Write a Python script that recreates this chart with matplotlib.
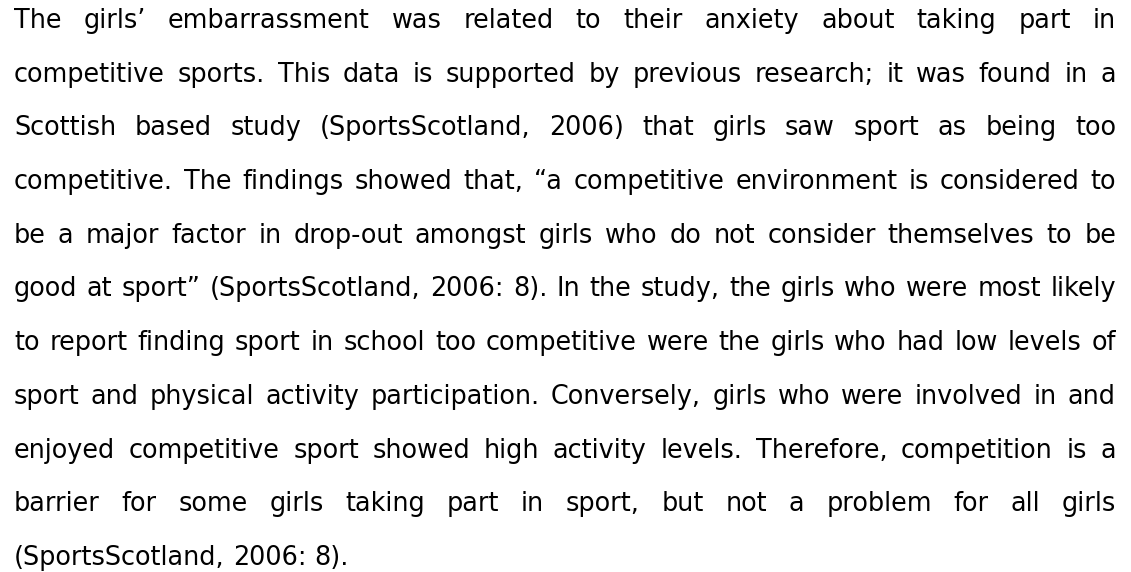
import matplotlib
matplotlib.use("Agg")
import matplotlib.pyplot as plt

# paragraph text, one entry per printed line (last line is left aligned)
lines = [
    "The girls\u2019 embarrassment was related to their anxiety about taking part in",
    "competitive sports. This data is supported by previous research; it was found in a",
    "Scottish based study (SportsScotland, 2006) that girls saw sport as being too",
    "competitive. The findings showed that, \u201ca competitive environment is considered to",
    "be a major factor in drop-out amongst girls who do not consider themselves to be",
    "good at sport\u201d (SportsScotland, 2006: 8). In the study, the girls who were most likely",
    "to report finding sport in school too competitive were the girls who had low levels of",
    "sport and physical activity participation. Conversely, girls who were involved in and",
    "enjoyed competitive sport showed high activity levels. Therefore, competition is a",
    "barrier for some girls taking part in sport, but not a problem for all girls",
    "(SportsScotland, 2006: 8).",
]

W, H = 1131, 572
left, right = 14, 1116
first_baseline, line_step = 28, 53.7
fsize = 18.4

fig = plt.figure(figsize=(W / 100, H / 100), dpi=100)
ax = fig.add_axes([0, 0, 1, 1])
ax.set_xlim(0, W)
ax.set_ylim(H, 0)
ax.axis("off")
renderer = fig.canvas.get_renderer()

style = dict(fontsize=fsize, family="DejaVu Sans", color="black",
             ha="left", va="baseline")


def measure(s, y):
    t = ax.text(0, y, s, **style)
    w = t.get_window_extent(renderer).width
    t.remove()
    return w


for i, line in enumerate(lines):
    y = first_baseline + i * line_step
    words = line.split(" ")
    texts = [ax.text(0, y, w, **style) for w in words]
    widths = [t.get_window_extent(renderer).width for t in texts]
    if i == len(lines) - 1:
        # normal word spacing on the last line
        gap = measure("a a", y) - measure("aa", y)
    else:
        gap = (right - left - sum(widths)) / (len(words) - 1)
    x = left
    for t, w in zip(texts, widths):
        t.set_x(x)
        x += w + gap

fig.savefig("out.png", dpi=100, facecolor="white")
